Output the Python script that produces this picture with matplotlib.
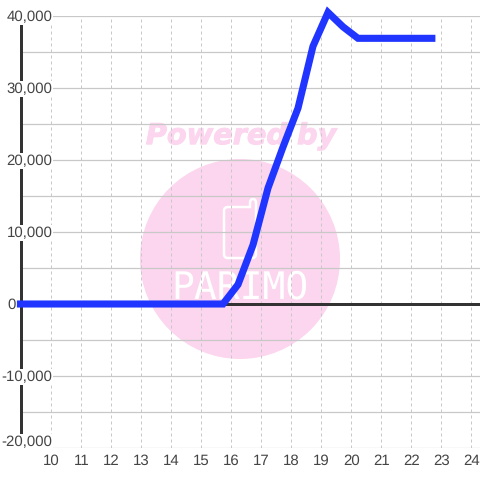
import matplotlib
matplotlib.use("Agg")
import matplotlib.pyplot as plt
import matplotlib.patheffects as pe
from matplotlib.patches import Ellipse, PathPatch
from matplotlib.path import Path
from matplotlib.transforms import Affine2D

plt.rcParams['font.family'] = ['Liberation Sans', 'DejaVu Sans']
plt.rcParams['text.hinting'] = 'no_hinting'
plt.rcParams['text.hinting_factor'] = 1

x_values = [8.88, 15.75, 16.25, 16.75, 17.25, 17.75, 18.25, 18.75, 19.25, 19.75, 20.25, 20.75, 21.25, 21.75, 22.25, 22.83]
y_values = [0, 0, 2700, 8200, 16100, 21800, 27200, 35800, 40500, 38500, 36900, 36900, 36900, 36900, 36900, 36900]
x_ticks = list(range(10, 25))
y_ticks = [-20000, -10000, 0, 10000, 20000, 30000, 40000]
y_minor = [-15000, -5000, 5000, 15000, 25000, 35000]

W = 480
fig = plt.figure(figsize=(4.8, 4.8), dpi=100, facecolor='white')
ax = fig.add_axes([20.5 / W, 32 / W, 459.5 / W, 432 / W])
ax.set_xlim(10 - 30 / 30, 24 + 9.5 / 30)
ax.set_ylim(-20000, 40000)
ax.patch.set_visible(False)

PINK = '#fcd6ee'
GRID = '#c8c8c8'
TEXT = '#444444'
px_x = 1 / 30
px_y = 10000 / 72

# watermark
ax.add_patch(Ellipse((16.317, 6250), 200 * px_x, 200 * px_y, color=PINK, lw=0, zorder=1))
ax.text(16.38, 23300, 'Powered by', color=PINK, fontsize=20.7, fontweight='bold', style='italic',
        family='DejaVu Sans', ha='center', va='center', zorder=1,
        path_effects=[pe.withStroke(linewidth=0.7, foreground=PINK)])
to_display = Affine2D().scale(1, -1).translate(0, W)
icon = Path(
    [(228, 207), (250, 207), (250, 203), (250, 199), (253, 199), (256, 199), (256, 203),
     (256, 254), (256, 258), (252, 258), (228, 258), (224, 258), (224, 254), (224, 211),
     (224, 207), (228, 207)],
    [Path.MOVETO, Path.LINETO, Path.LINETO, Path.CURVE3, Path.CURVE3, Path.CURVE3, Path.CURVE3,
     Path.LINETO, Path.CURVE3, Path.CURVE3, Path.LINETO, Path.CURVE3, Path.CURVE3, Path.LINETO,
     Path.CURVE3, Path.CURVE3])
ax.add_patch(PathPatch(icon, fc='none', ec='white', lw=1.8, zorder=1.1, transform=to_display))
ax.text(16.33, 2220, 'PARIMO', color='white', fontsize=27, family='DejaVu Sans Mono',
        ha='center', va='center', zorder=1.1)

# grid
for v in x_ticks:
    ax.axvline(v, color=GRID, lw=0.72, ls=(0, (3, 3)), zorder=2)
for v in y_ticks + y_minor:
    ax.axhline(v, color=GRID, lw=0.9, zorder=2)

zero_line = ax.axhline(0, color='#333333', lw=2.16, zorder=3, snap=False)
zero_line.set_transform(ax.get_yaxis_transform(which='grid') + Affine2D().translate(0, -0.5))

for s in ['top', 'right', 'bottom']:
    ax.spines[s].set_visible(False)
ax.spines['left'].set_color('#333333')
ax.spines['left'].set_linewidth(2.16)
ax.spines['left'].set_bounds(-18400, 38900)
ax.spines['left'].set_zorder(3)

ax.plot(x_values, y_values, color='#2035ff', lw=5.1, zorder=4, clip_on=False, snap=False,
        solid_joinstyle='miter', solid_capstyle='butt')

ax.tick_params(length=0, labelleft=False, labelbottom=False)
ax.set_xticks(x_ticks)
ax.set_yticks(y_ticks)
for v in x_ticks:
    ax.annotate(str(v), (v, -20000), xytext=(0.7, -9.5), textcoords='offset points', ha='center', va='center',
                fontsize=11, color=TEXT, zorder=6, annotation_clip=False)
for v in y_ticks:
    off_y = 5 if v == -20000 else 0
    label = f'{v:,}'
    if v == 0:
        ax.annotate(label, (10, v), xytext=(-31, -1), textcoords='offset points', ha='left', va='center',
                    fontsize=11, color=TEXT, zorder=3.5, annotation_clip=False)
    else:
        ax.annotate(label, (10, v), xytext=(1.3, off_y - 1), textcoords='offset points', ha='right', va='center',
                    fontsize=11, color=TEXT, zorder=6, annotation_clip=False,
                    bbox=dict(fc='white', ec='none', pad=0.8))

fig.savefig('out.png', dpi=100)
